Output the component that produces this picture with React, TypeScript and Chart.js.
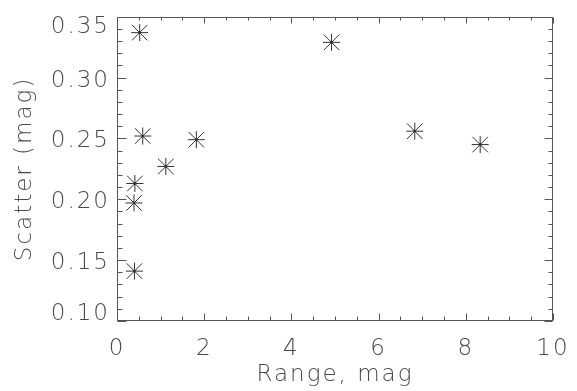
import React, { useEffect, useRef } from 'react';
import { Chart, registerables } from 'chart.js';

Chart.register(...registerables);

// ---- data ----
const rangeMag = [0.52, 4.92, 0.59, 1.82, 1.12, 0.41, 0.39, 0.40, 6.83, 8.33];
const scatterMag = [0.337, 0.329, 0.252, 0.249, 0.227, 0.213, 0.197, 0.141, 0.256, 0.245];

const xMajorValues = [0, 2, 4, 6, 8, 10];
const xTickLabels = ['0', '2', '4', '6', '8', '10'];
const yMajorValues = [0.1, 0.15, 0.2, 0.25, 0.3, 0.35];
const yTickLabels = ['0.10', '0.15', '0.20', '0.25', '0.30', '0.35'];

const xTitle = 'Range, mag';
const yTitle = 'Scatter (mag)';

const FONT_FAMILY = "'DejaVu Sans', 'Liberation Sans', sans-serif";
const FONT_SIZE = 23;
const FONT_WEIGHT = '200';
const TEXT_COLOR = '#4a4a4a';
const FRAME_COLOR = '#555555';
const MARK_COLOR = '#333333';

const isMajor = (v: number, majors: number[]) => majors.findIndex((m) => Math.abs(m - v) < 1e-6);

const idlFramePlugin = {
  id: 'idlFrame',
  beforeLayout(chart: any) {
    chart.ctx.letterSpacing = '2px';
  },
  beforeDraw(chart: any) {
    chart.ctx.letterSpacing = '2px';
  },
  afterDraw(chart: any) {
    const ctx = chart.ctx;
    const { left, right, top, bottom } = chart.chartArea;
    const xs = chart.scales.x;
    const ys = chart.scales.y;
    ctx.save();
    ctx.strokeStyle = FRAME_COLOR;
    ctx.lineWidth = 1;
    const L = Math.round(left) + 0.5;
    const R = Math.round(right) - 0.5;
    const T = Math.round(top) + 0.5;
    const B = Math.round(bottom) - 0.5;
    ctx.strokeRect(L, T, R - L, B - T);
    ctx.beginPath();
    // x ticks (bottom + top), inward
    xs.ticks.forEach((t: any) => {
      const px = Math.round(xs.getPixelForValue(t.value)) + 0.5;
      const major = isMajor(t.value, xMajorValues) >= 0;
      const lb = major ? 7 : 4;
      const lt = major ? 6 : 3;
      ctx.moveTo(px, B);
      ctx.lineTo(px, B - lb);
      ctx.moveTo(px, T);
      ctx.lineTo(px, T + lt);
    });
    // y ticks (left + right), inward
    ys.ticks.forEach((t: any) => {
      const py = Math.round(ys.getPixelForValue(t.value)) + 0.5;
      const major = isMajor(t.value, yMajorValues) >= 0;
      const ll = major ? 9 : 5;
      const lr = major ? 8 : 4;
      ctx.moveTo(L, py);
      ctx.lineTo(L + ll, py);
      ctx.moveTo(R, py);
      ctx.lineTo(R - lr, py);
    });
    ctx.stroke();

    // y tick labels (ends pulled inside the frame as in the reference)
    ctx.letterSpacing = '2px';
    ctx.font = `${FONT_WEIGHT} ${FONT_SIZE}px ${FONT_FAMILY}`;
    ctx.fillStyle = TEXT_COLOR;
    ctx.textAlign = 'right';
    ctx.textBaseline = 'middle';
    const last = yMajorValues.length - 1;
    yMajorValues.forEach((v, i) => {
      const py = ys.getPixelForValue(v);
      const nudge = i === 0 ? -7 : i === last ? 10 : 3;
      ctx.fillText(yTickLabels[i], left - 7, py + nudge);
    });
    ctx.restore();
  },
};

export default function App() {
  const canvasRef = useRef<HTMLCanvasElement | null>(null);

  useEffect(() => {
    const canvas = canvasRef.current;
    if (!canvas) return;
    const points = rangeMag.map((x, i) => ({ x, y: scatterMag[i] }));
    const font = { family: FONT_FAMILY, size: FONT_SIZE, weight: FONT_WEIGHT as any };

    const chart = new Chart(canvas, {
      type: 'scatter',
      data: {
        datasets: [
          {
            data: points,
            pointStyle: 'cross',
            pointRadius: 8.5,
            borderColor: MARK_COLOR,
            backgroundColor: MARK_COLOR,
            pointBorderWidth: 1,
          },
          {
            data: points,
            pointStyle: 'crossRot',
            pointRadius: 11,
            borderColor: MARK_COLOR,
            backgroundColor: MARK_COLOR,
            pointBorderWidth: 1,
          },
          {
            data: points,
            pointStyle: 'rect',
            pointRadius: 1.6,
            borderColor: '#000',
            backgroundColor: '#000',
            pointBorderWidth: 0,
          },
        ],
      },
      options: {
        responsive: false,
        animation: false,
        events: [],
        layout: { padding: { top: 14, right: 24, left: 0, bottom: 0 } },
        plugins: { legend: { display: false }, tooltip: { enabled: false } },
        scales: {
          x: {
            type: 'linear',
            min: 0,
            max: 10,
            grid: { display: false },
            border: { display: false },
            ticks: {
              stepSize: 0.5,
              autoSkip: false,
              maxRotation: 0,
              padding: 6,
              color: TEXT_COLOR,
              font,
              callback: (v: any) => {
                const i = isMajor(Number(v), xMajorValues);
                return i >= 0 ? xTickLabels[i] : '';
              },
            },
            title: {
              display: true,
              text: xTitle,
              color: TEXT_COLOR,
              font,
              padding: { top: 0, bottom: 2 },
            },
            afterFit: (s: any) => {
              s.height = 70;
            },
          },
          y: {
            type: 'linear',
            min: 0.1,
            max: 0.35,
            grid: { display: false },
            border: { display: false },
            ticks: {
              stepSize: 0.01,
              autoSkip: false,
              color: TEXT_COLOR,
              font,
              callback: () => '',
            },
            title: {
              display: true,
              text: yTitle,
              color: TEXT_COLOR,
              font,
              padding: { top: 11, bottom: 0 },
            },
            afterFit: (s: any) => {
              s.width = 117;
            },
          },
        },
      },
      plugins: [idlFramePlugin],
    });
    return () => chart.destroy();
  }, []);

  return (
    <div style={{ position: 'fixed', left: 0, top: 0, width: 577, height: 391, background: '#fff' }}>
      <canvas ref={canvasRef} width={577} height={391} style={{ display: 'block' }} />
    </div>
  );
}
